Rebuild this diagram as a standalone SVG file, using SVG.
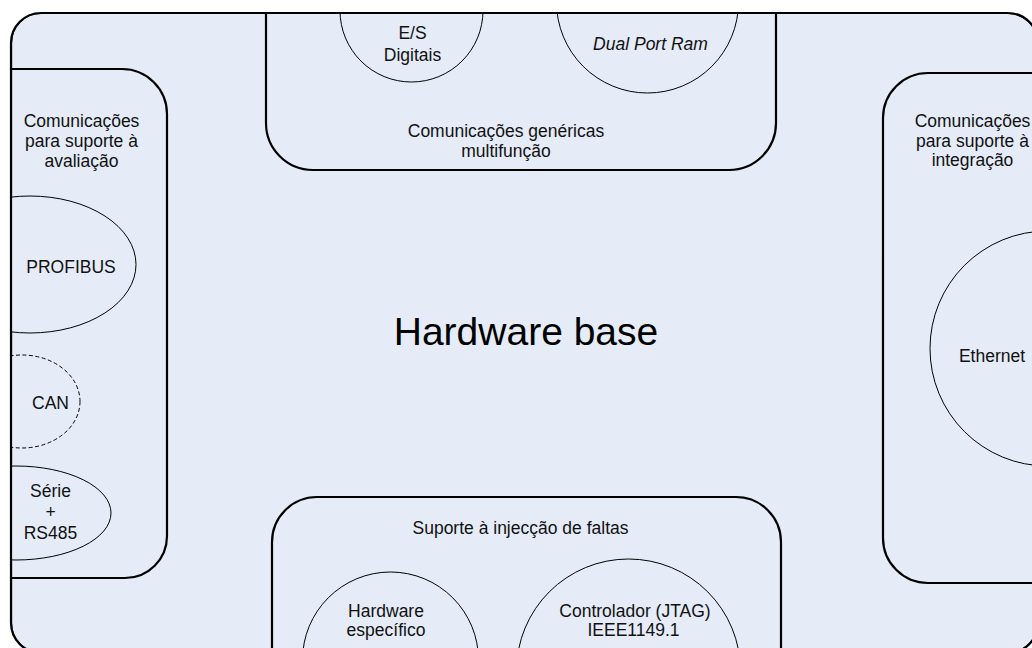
<svg xmlns="http://www.w3.org/2000/svg" width="1032" height="648" viewBox="0 0 1032 648">
  <style>
    .frame { fill: #E5ECF7; stroke: #000; stroke-width: 2.2; }
    .panel { fill: #E5ECF7; stroke: #000; stroke-width: 2.2; }
    .unit { fill: #E5ECF7; stroke: #000; stroke-width: 1; }
    .unit.optional { stroke-dasharray: 4 2.5; }
    text { font-family: "Liberation Sans", Arial, sans-serif; font-size: 17.5px; fill: #111; text-anchor: middle; }
    .title { font-size: 39px; fill: #000; }
    .it { font-style: italic; }
  </style>
  <defs>
    <clipPath id="inside">
      <rect x="11" y="13" width="1027" height="640" rx="30" ry="30"/>
    </clipPath>
  </defs>

  <!-- base hardware frame -->
  <g id="hardware-base">
    <rect class="frame" x="11" y="13" width="1027" height="640" rx="30" ry="30"/>
    <text class="title" x="526" y="345">Hardware base</text>
  </g>

  <g clip-path="url(#inside)">
    <!-- evaluation comms (left) -->
    <g id="evaluation-comms">
      <path class="panel" d="M11,69 H122 A45,45 0 0 1 167,114 V536 A42,42 0 0 1 125,578 H11 Z"/>
      <text x="81.5" y="127">Comunicações</text>
      <text x="81.5" y="147">para suporte à</text>
      <text x="81.5" y="167">avaliação</text>
    </g>
    <g id="profibus">
      <ellipse class="unit" cx="30" cy="264.5" rx="106" ry="68.5"/>
      <text x="71" y="272.5">PROFIBUS</text>
    </g>
    <g id="can">
      <ellipse class="unit optional" cx="22" cy="401.5" rx="58" ry="46.5"/>
      <text x="50.5" y="409">CAN</text>
    </g>
    <g id="serie-rs485">
      <ellipse class="unit" cx="16" cy="513" rx="95" ry="47"/>
      <text x="50.5" y="497">Série</text>
      <text x="50.5" y="518">+</text>
      <text x="50.5" y="539">RS485</text>
    </g>

    <!-- generic multifunction comms (top) -->
    <g id="generic-comms">
      <path class="panel" d="M266,0 V123 A47,47 0 0 0 313,170 H729 A47,47 0 0 0 776,123 V0"/>
      <text x="506" y="137">Comunicações genéricas</text>
      <text x="506" y="157">multifunção</text>
    </g>
    <g id="digital-io">
      <circle class="unit" cx="411.5" cy="10.5" r="71.5"/>
      <text x="412.5" y="39">E/S</text>
      <text x="412.5" y="61">Digitais</text>
    </g>
    <g id="dual-port-ram">
      <circle class="unit" cx="647.5" cy="2" r="91"/>
      <text class="it" x="650.5" y="50">Dual Port Ram</text>
    </g>

    <!-- integration comms (right) -->
    <g id="integration-comms">
      <path class="panel" d="M1060,73 H928 A45,45 0 0 0 883,118 V538 A45,45 0 0 0 928,583 H1060"/>
      <text x="972.5" y="127">Comunicações</text>
      <text x="972.5" y="147">para suporte à</text>
      <text x="972.5" y="166">integração</text>
    </g>
    <g id="ethernet">
      <circle class="unit" cx="1047.5" cy="348.5" r="117.5"/>
      <text x="992" y="361.5">Ethernet</text>
    </g>

    <!-- fault injection support (bottom) -->
    <g id="fault-injection">
      <path class="panel" d="M272,660 V542 A45,45 0 0 1 317,497 H736 A45,45 0 0 1 781,542 V660"/>
      <text x="520.5" y="534">Suporte à injecção de faltas</text>
    </g>
    <g id="specific-hardware">
      <circle class="unit" cx="390.5" cy="660" r="88"/>
      <text x="386" y="617">Hardware</text>
      <text x="386" y="636">específico</text>
    </g>
    <g id="jtag-controller">
      <circle class="unit" cx="628.5" cy="671" r="112"/>
      <text x="635" y="617">Controlador (JTAG)</text>
      <text x="633.5" y="636">IEEE1149.1</text>
    </g>

    <!-- outer frame outline redrawn over panel edges -->
    <rect x="11" y="13" width="1027" height="640" rx="30" ry="30" fill="none" stroke="#000" stroke-width="2.2"/>
  </g>

  <g id="connectors"/>
</svg>
